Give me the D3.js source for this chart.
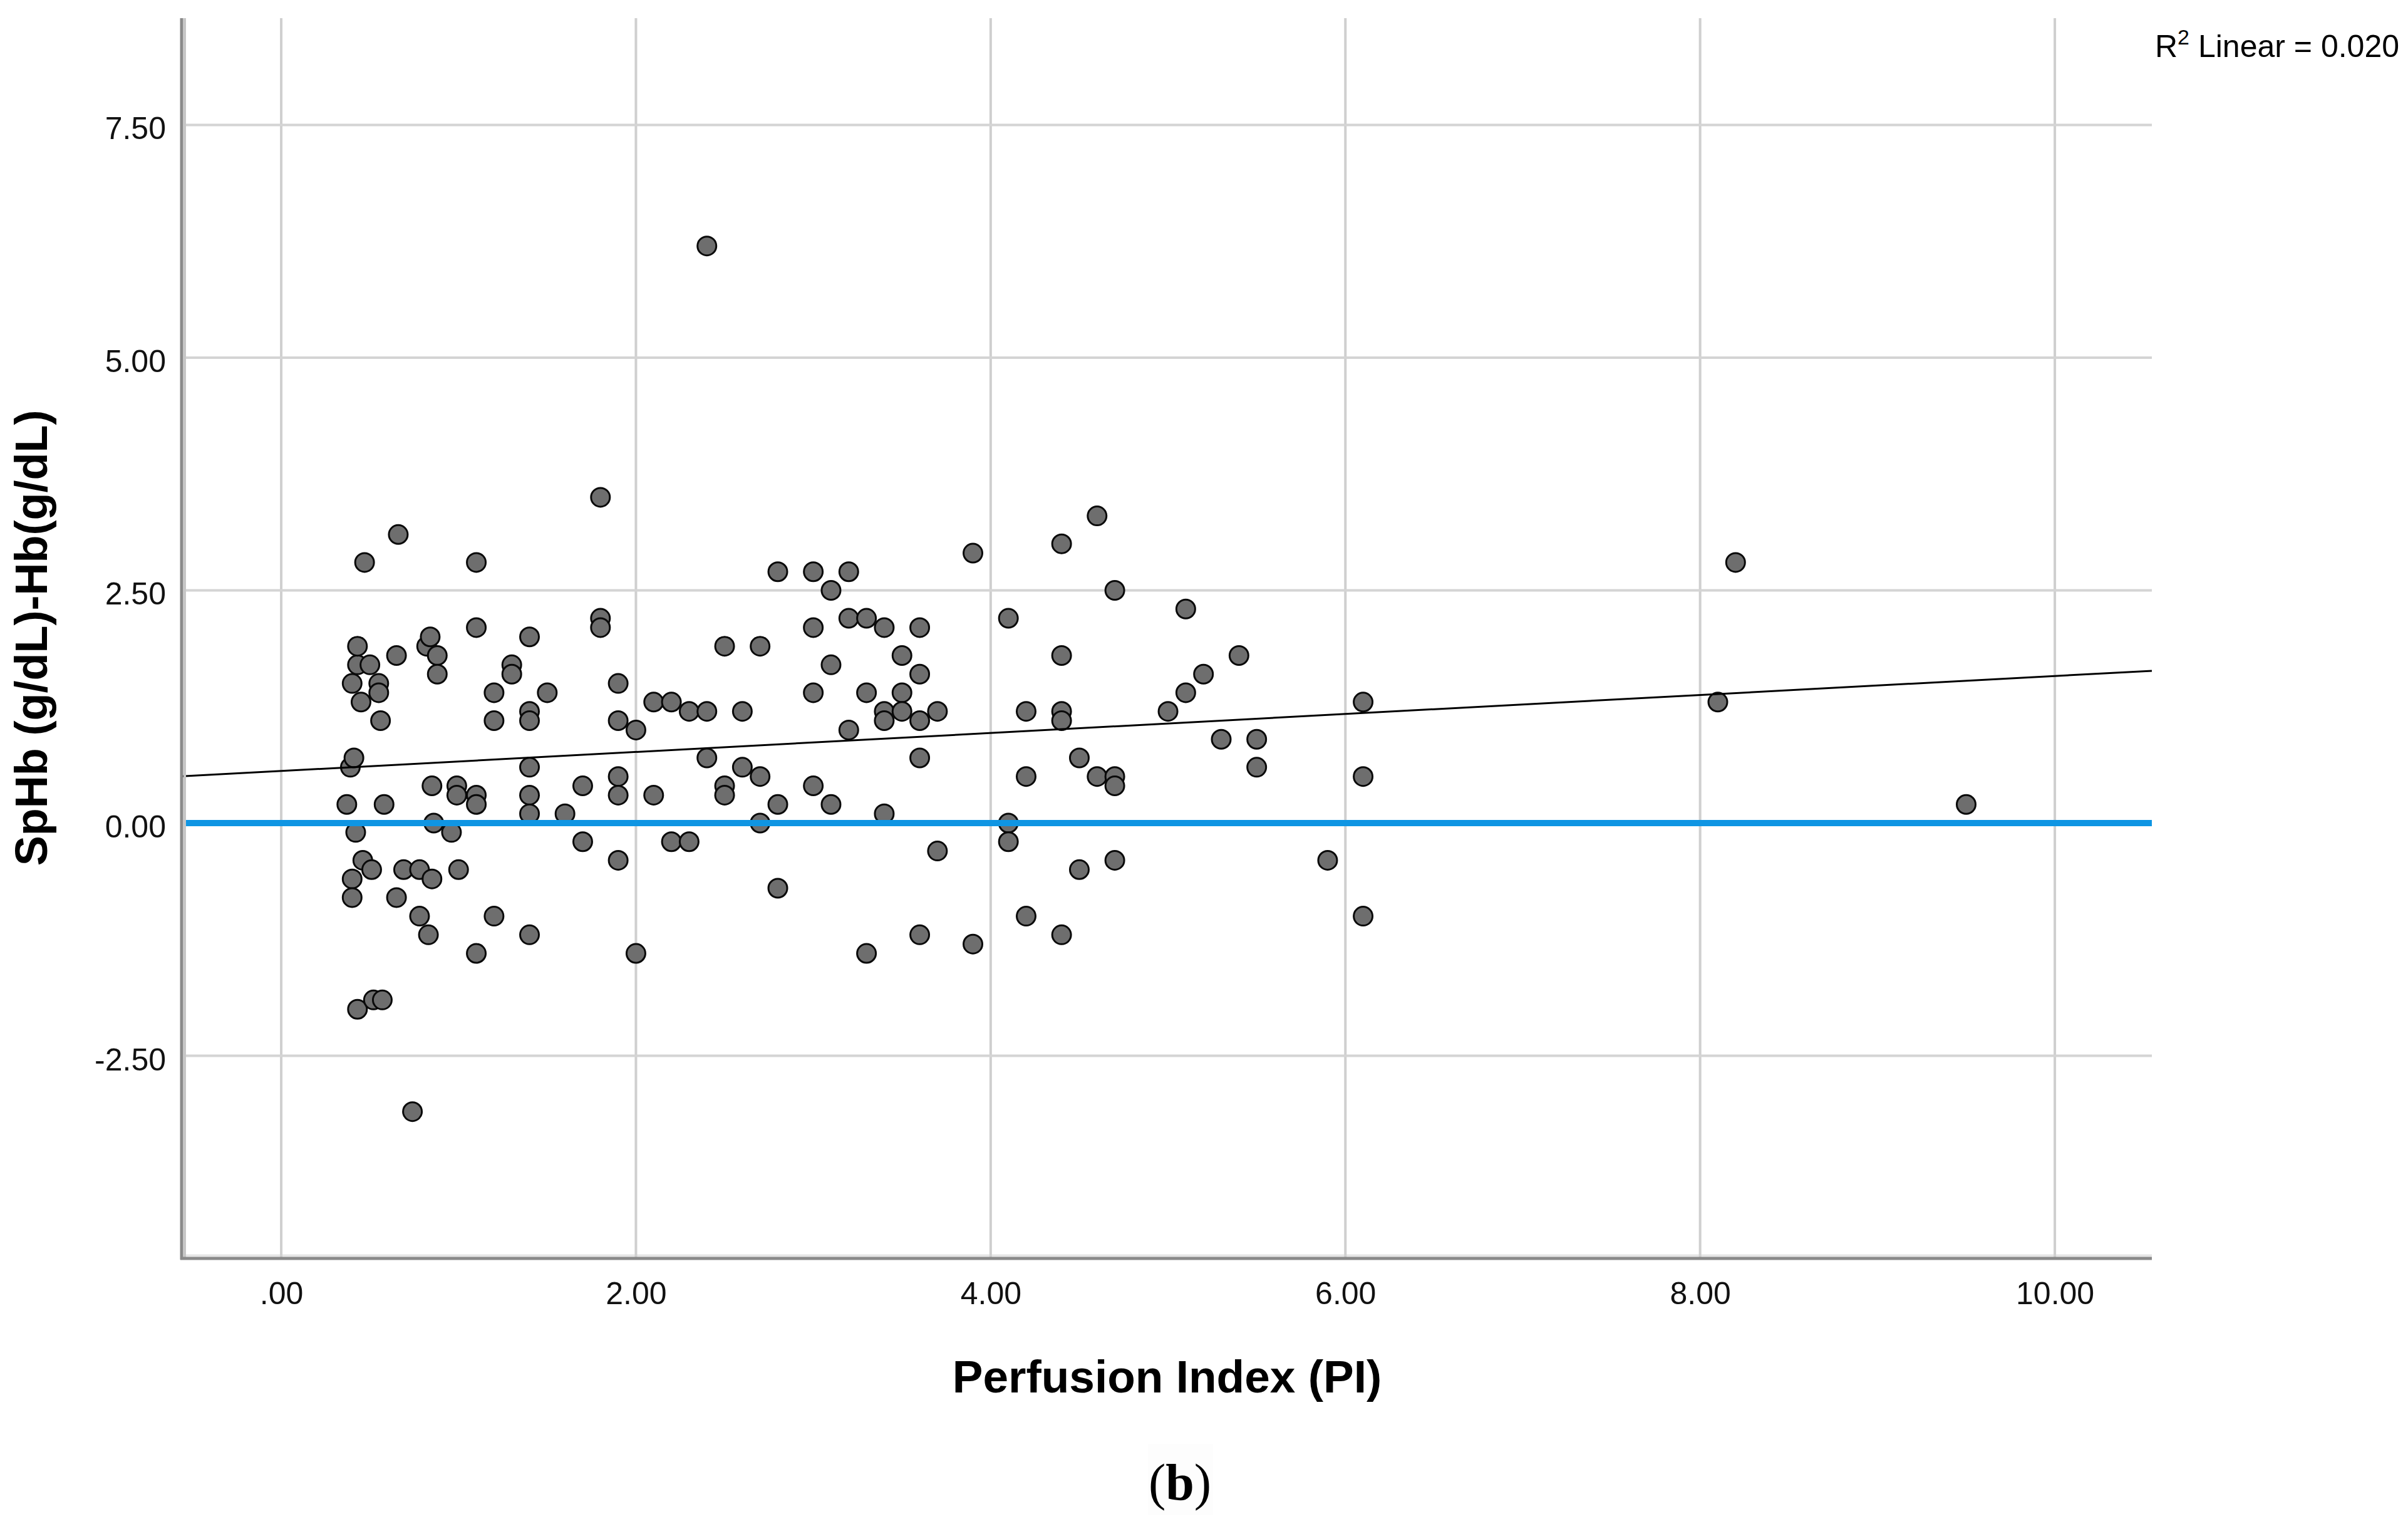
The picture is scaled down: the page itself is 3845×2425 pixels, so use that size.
<!DOCTYPE html>
<html><head><meta charset="utf-8">
<script src="https://cdn.jsdelivr.net/npm/d3@7"></script>
<style>html,body{margin:0;padding:0;background:#fff;} svg{display:block;}</style>
</head><body>
<svg id="chart" width="3845" height="2425"></svg>
<script>
// ---- Data ----
const piValues = [
  0.37,0.39,0.41,0.40,0.43,0.43,0.42,0.40,0.40,0.43,
  0.47,0.45,0.46,0.50,0.51,0.55,0.55,0.52,0.57,0.56,
  0.58,0.66,0.65,0.65,0.69,0.74,0.78,0.78,0.82,0.84,
  0.83,0.85,0.86,0.85,0.88,0.88,0.96,0.99,0.99,1.00,
  1.1,1.1,1.1,1.1,1.1,1.2,1.2,1.2,1.3,1.3,
  1.4,1.4,1.4,1.4,1.4,1.4,1.4,1.5,1.6,1.7,
  1.7,1.8,1.8,1.8,1.9,1.9,1.9,1.9,1.9,2.0,
  2.0,2.1,2.1,2.2,2.2,2.3,2.3,2.4,2.4,2.4,
  2.5,2.5,2.5,2.6,2.6,2.7,2.7,2.7,2.8,2.8,
  2.8,3.0,3.0,3.0,3.0,3.1,3.1,3.1,3.2,3.2,
  3.2,3.3,3.3,3.3,3.4,3.4,3.4,3.4,3.5,3.5,
  3.5,3.6,3.6,3.6,3.6,3.6,3.7,3.7,3.9,3.9,
  4.1,4.1,4.1,4.2,4.2,4.2,4.4,4.4,4.4,4.4,
  4.4,4.5,4.5,4.6,4.6,4.7,4.7,4.7,4.7,5.0,
  5.1,5.1,5.2,5.3,5.4,5.5,5.5,5.9,6.1,6.1,
  6.1,8.1,8.2,9.5
];
const diffValues = [
  0.2,0.6,0.7,1.5,1.7,1.9,-0.1,-0.6,-0.8,-2.0,
  2.8,1.3,-0.4,1.7,-0.5,1.5,1.4,-1.9,-1.9,1.1,
  0.2,3.1,1.8,-0.8,-0.5,-3.1,-0.5,-1.0,1.9,2.0,
  -1.2,0.4,0.0,-0.6,1.8,1.6,-0.1,0.4,0.3,-0.5,
  2.8,2.1,0.3,0.2,-1.4,1.4,1.1,-1.0,1.7,1.6,
  2.0,1.2,1.1,0.6,0.3,0.1,-1.2,1.4,0.1,0.4,
  -0.2,3.5,2.2,2.1,1.5,1.1,0.5,0.3,-0.4,1.0,
  -1.4,1.3,0.3,1.3,-0.2,1.2,-0.2,6.2,1.2,0.7,
  1.9,0.4,0.3,1.2,0.6,1.9,0.5,0.0,2.7,0.2,
  -0.7,2.7,2.1,1.4,0.4,2.5,1.7,0.2,2.7,2.2,
  1.0,2.2,1.4,-1.4,2.1,1.2,1.1,0.1,1.8,1.4,
  1.2,2.1,1.6,1.1,0.7,-1.2,1.2,-0.3,2.9,-1.3,
  2.2,0.0,-0.2,1.2,0.5,-1.0,3.0,1.8,1.2,1.1,
  -1.2,0.7,-0.5,3.3,0.5,2.5,0.5,0.4,-0.4,1.2,
  2.3,1.4,1.6,0.9,1.8,0.9,0.6,-0.4,1.3,0.5,
  -1.0,1.3,2.8,0.2
];
const xTickValues = [0, 2, 4, 6, 8, 10];
const xTickLabels = [".00", "2.00", "4.00", "6.00", "8.00", "10.00"];
const yTickValues = [-2.5, 0, 2.5, 5, 7.5];
const yTickLabels = ["-2.50", "0.00", "2.50", "5.00", "7.50"];
const fitIntercept = 0.56;
const fitSlope = 0.102;
const referenceValue = 0;
const xDomain = [-0.558, 10.547];
const yDomain = [-4.67, 8.647];
const xTitle = "Perfusion Index (PI)";
const yTitle = "SpHb (g/dL)-Hb(g/dL)";
const r2Text = " Linear = 0.020";
const panelLabel = "b";

// ---- Layout ----
const L = 291, R = 3436, T = 29, B = 2008;
const svg = d3.select("#chart");
const x = d3.scaleLinear().domain(xDomain).range([L, R]);
const y = d3.scaleLinear().domain(yDomain).range([B, T]);
const sans = "'Liberation Sans', Arial, sans-serif";

svg.append("rect").attr("width", 3845).attr("height", 2425).attr("fill", "#fff");

// light band above bottom axis
svg.append("line").attr("x1", L + 3).attr("x2", R).attr("y1", B - 3.5).attr("y2", B - 3.5)
  .attr("stroke", "#e6e6e6").attr("stroke-width", 4);

// gridlines
svg.append("g").selectAll("line").data(xTickValues).join("line")
  .attr("x1", d => x(d)).attr("x2", d => x(d)).attr("y1", T).attr("y2", B - 1)
  .attr("stroke", "#cfcfcf").attr("stroke-width", 4);
svg.append("g").selectAll("line").data(yTickValues).join("line")
  .attr("x1", L + 3).attr("x2", R).attr("y1", d => y(d)).attr("y2", d => y(d))
  .attr("stroke", "#d4d4d4").attr("stroke-width", 4);

// points
const pts = piValues.map((v, i) => ({px: v, dy: diffValues[i]}));
svg.append("g").selectAll("circle").data(pts).join("circle")
  .attr("cx", d => x(d.px)).attr("cy", d => y(d.dy)).attr("r", 15)
  .attr("fill", "#6e6e6e").attr("stroke", "#0a0a0a").attr("stroke-width", 3);

// fit line
svg.append("line")
  .attr("x1", x(xDomain[0])).attr("y1", y(fitIntercept + fitSlope * xDomain[0]))
  .attr("x2", x(xDomain[1])).attr("y2", y(fitIntercept + fitSlope * xDomain[1]))
  .attr("stroke", "#000").attr("stroke-width", 3);

// reference line at 0
svg.append("line")
  .attr("x1", L + 3).attr("x2", R).attr("y1", y(referenceValue)).attr("y2", y(referenceValue))
  .attr("stroke", "#0f95e3").attr("stroke-width", 10);

// axis lines (shaded)
svg.append("line").attr("x1", L + 4).attr("x2", L + 4).attr("y1", T).attr("y2", B - 1)
  .attr("stroke", "#c6c6c6").attr("stroke-width", 4);
svg.append("line").attr("x1", L - 1).attr("x2", L - 1).attr("y1", T).attr("y2", B + 3)
  .attr("stroke", "#8a8a8a").attr("stroke-width", 5);
svg.append("line").attr("x1", L - 3).attr("x2", R).attr("y1", B + 1).attr("y2", B + 1)
  .attr("stroke", "#8a8a8a").attr("stroke-width", 5);

// tick labels via d3 axes
const yAxis = svg.append("g").attr("transform", `translate(${L},0)`)
  .call(d3.axisLeft(y).tickValues(yTickValues).tickFormat((d, i) => yTickLabels[i]).tickSize(0).tickPadding(26));
yAxis.select(".domain").remove();
yAxis.selectAll("text").attr("font-family", sans).attr("font-size", 50).attr("fill", "#111").attr("dy", "0.45em");

const xAxis = svg.append("g").attr("transform", `translate(0,${B})`)
  .call(d3.axisBottom(x).tickValues(xTickValues).tickFormat((d, i) => xTickLabels[i]).tickSize(0).tickPadding(38));
xAxis.select(".domain").remove();
xAxis.selectAll("text").attr("font-family", sans).attr("font-size", 50).attr("fill", "#111");

// axis titles
svg.append("text").attr("x", (L + R) / 2).attr("y", 2223).attr("text-anchor", "middle")
  .attr("font-family", sans).attr("font-weight", "bold").attr("font-size", 73).attr("fill", "#000")
  .text(xTitle);
svg.append("text").attr("transform", `translate(75,${(T + B) / 2}) rotate(-90)`).attr("text-anchor", "middle")
  .attr("font-family", sans).attr("font-weight", "bold").attr("font-size", 72).attr("fill", "#000")
  .text(yTitle);

// R² label
const r2 = svg.append("text").attr("x", 3441).attr("y", 91)
  .attr("font-family", sans).attr("font-size", 50).attr("fill", "#000");
r2.append("tspan").text("R");
r2.append("tspan").attr("font-size", 34).attr("dy", -20).text("2");
r2.append("tspan").attr("dy", 20).text(r2Text);

// panel label (b)
svg.append("rect").attr("x", 1833).attr("y", 2305).attr("width", 104).attr("height", 114).attr("fill", "#fdfdfd");
const pl = svg.append("text").attr("x", 1884).attr("y", 2394).attr("text-anchor", "middle")
  .attr("font-family", "'Liberation Serif', 'Times New Roman', serif").attr("font-size", 82).attr("fill", "#000");
pl.append("tspan").text("(");
pl.append("tspan").attr("font-weight", "bold").text(panelLabel);
pl.append("tspan").text(")");
</script>
</body></html>
